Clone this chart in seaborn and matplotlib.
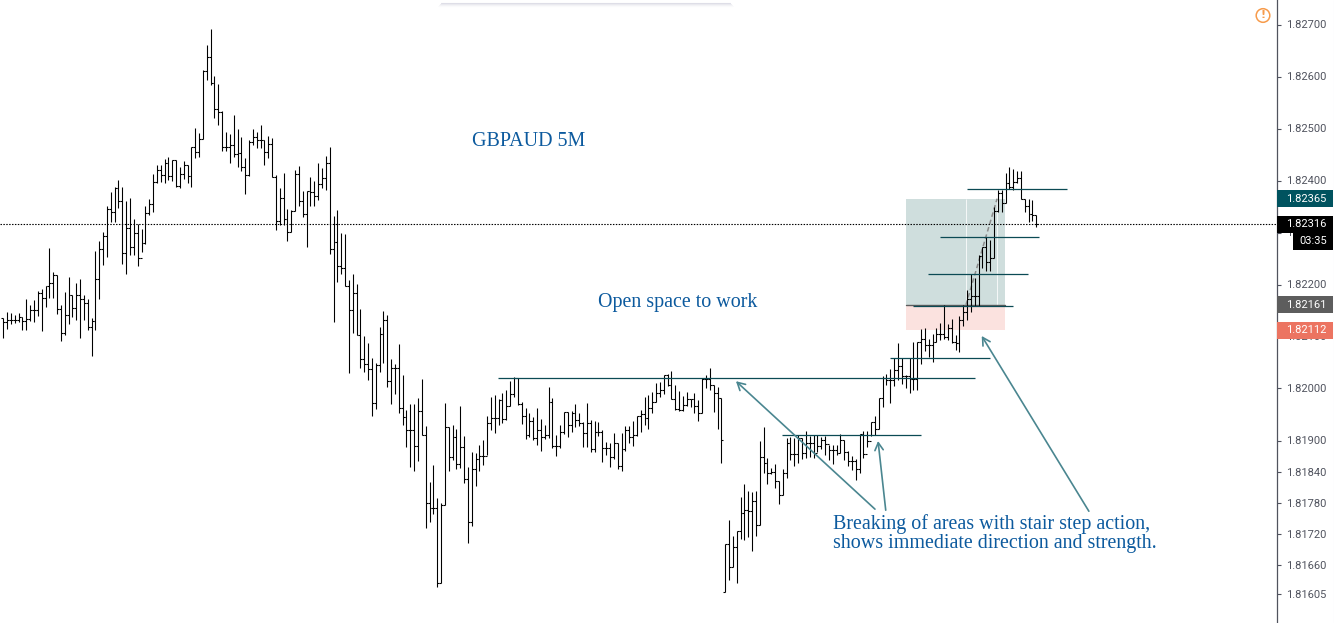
import numpy as np
import pandas as pd
import seaborn as sns
import matplotlib
matplotlib.use("Agg")
import matplotlib.pyplot as plt
from matplotlib.patches import Rectangle, Circle
from matplotlib.lines import Line2D
from matplotlib.transforms import IdentityTransform

# OHLC, in points (0.00001) above 1.82000
high = [135,147,145,142,145,137,172,161,171,188,192,198,270,224,219,161,185,215,180,203,211,180,172,135,265,283,301,351,378,387,401,388,360,366,326,317,307,351,365,413,429,429,442,445,440,440,426,438,429,464,501,491,612,661,692,601,586,533,494,489,526,499,483,443,478,499,493,506,478,485,481,410,385,414,346,344,421,428,379,379,406,399,433,424,448,465,332,344,
        300,298,209,220,201,153,101,87,58,50,119,149,141,56,48,86,26,-41,-30,-30,-19,19,-72,-180,-147,-211,-221,-28,-75,-70,-77,-34,-91,-150,-123,-125,-109,-100,-53,-16,-13,-20,-9,-2,14,23,21,-25,-38,-47,-54,-38,-59,-70,2,-19,-89,-70,-45,-46,-43,-30,-47,-65,-28,-61,-63,-64,-79,-102,-104,-86,-104,-86,-72,-72,-63,-52,-41,-16,-13,-7,10,12,26,28,34,7,-4,-14,-6,-20,-9,-22,21,26,39,7,2,-19,
        -300,-252,-284,-274,-208,-183,-197,-200,-197,-101,-74,-133,-152,-146,-178,-154,-96,-93,-96,-90,-96,-81,-91,-90,-90,-93,-91,-108,-109,-108,-88,-99,-120,-130,-136,-88,-81,-82,-65,-53,-18,24,28,37,58,87,58,26,58,89,90,114,116,96,105,116,126,160,125,133,103,
        140,161,190,220,212,256,273,292,286,349,382,382,415,426,422,419,419,364,364,363,334]
low = [98,114,124,126,128,112,113,130,127,139,110,156,174,174,144,92,103,125,137,132,98,132,112,62,112,173,237,252,321,321,347,239,221,256,256,235,262,278,333,340,395,397,395,401,400,387,385,403,395,388,444,445,479,594,584,521,506,456,457,433,446,425,419,375,408,468,462,462,429,444,406,304,315,315,283,301,341,350,329,273,350,350,362,385,382,258,127,204,
       221,198,30,106,103,39,31,16,-52,-39,32,50,2,-29,-10,-48,-71,-112,-150,-158,-139,-89,-268,-256,-241,-381,-375,-224,-158,-138,-154,-152,-182,-298,-264,-187,-158,-147,-128,-79,-86,-70,-67,-61,-34,-16,-32,-69,-98,-93,-99,-109,-121,-98,-96,-114,-129,-114,-88,-93,-83,-75,-73,-112,-113,-123,-123,-91,-141,-128,-150,-136,-154,-158,-120,-105,-111,-91,-83,-70,-78,-47,-25,-16,-11,5,-21,-41,-43,-43,-34,-35,-47,-62,-48,0,-3,-45,-78,-143,
       -391,-368,-343,-375,-290,-292,-286,-312,-283,-263,-163,-183,-165,-192,-223,-204,-172,-138,-149,-144,-136,-134,-131,-133,-122,-117,-128,-138,-146,-128,-124,-138,-149,-157,-176,-163,-133,-112,-92,-90,-77,-35,7,-27,5,17,8,0,-8,-3,-2,47,73,61,51,89,93,96,93,87,74,
       70,121,132,147,158,158,231,225,225,251,340,340,356,383,381,395,364,339,321,323,310]
close = [128,132,132,132,137,129,133,151,151,183,174,197,203,218,153,106,141,180,154,180,172,164,118,129,210,268,294,345,340,386,360,260,308,273,299,251,279,337,355,397,421,411,433,408,440,390,412,429,409,464,454,479,610,637,587,537,532,464,465,468,451,453,426,411,475,483,477,478,455,470,406,323,366,326,301,341,412,360,335,379,377,371,394,404,433,268,281,236,
         231,198,151,183,103,56,48,37,-27,45,104,132,14,39,39,-37,-54,-80,-79,-111,-44,-89,-221,-229,-229,-375,-224,-75,-131,-93,-146,-113,-175,-256,-155,-136,-130,-129,-67,-57,-57,-22,-58,-34,-11,20,-30,-53,-89,-63,-96,-80,-93,-89,-25,-110,-110,-84,-46,-70,-47,-61,-67,-86,-67,-117,-83,-83,-115,-115,-132,-104,-149,-117,-80,-94,-89,-53,-50,-57,-38,-25,-9,-2,25,7,-20,-40,-41,-32,-21,-21,-34,-48,18,18,7,-9,-19,-100,
         -300,-343,-304,-275,-240,-234,-235,-217,-263,-131,-143,-163,-160,-178,-204,-163,-104,-126,-126,-96,-125,-104,-104,-125,-110,-99,-106,-118,-118,-124,-99,-122,-140,-140,-154,-88,-126,-101,-65,-77,-18,21,16,17,35,43,24,24,19,19,90,96,83,83,89,105,104,99,116,90,87,
         131,148,173,177,178,255,273,244,251,341,376,356,395,387,398,404,364,350,336,334,316]
# The one bar that opens away from the previous close, after the jump down
gap_open = {188: -391}
first_open = 135

price_ticks = [1.82700,1.82600,1.82500,1.82400,1.82300,1.82200,1.82100,1.82000,1.81900,1.81840,1.81780,1.81720,1.81660,1.81605]
tags = [(1.82365,"#00535f"),(1.82316,"#000000"),(1.82161,"#5d5d5d"),(1.82112,"#ec7461")]
last_price = 1.82316
BASE, POINT = 1.82, 1e-5

# horizontal study lines: (price, first bar, last bar)
levels = [(1.82020,128.8,253),(1.81910,202.8,239),(1.82058,230.9,256.9),(1.82159,236.9,262.9),
          (1.82220,240.8,266.8),(1.82291,243.9,269.7),(1.82383,250.9,277)]
# arrows: (tail bar, tail price, head bar, head price)
arrows = [(227,1.81768,190.8,1.82014),(229.8,1.81766,227.8,1.81899),(282.7,1.81764,254.8,1.82101)]

sns.set_theme(style="white")
SERIF = "Liberation Serif"
BLUE = "#0c5a9e"
TEAL = "#0b4a54"
AX_GREY = "#50535e"
LW = 0.78

fig = plt.figure(figsize=(13.34,6.23),dpi=100)
ax = fig.add_axes([0,0,1277/1334,1])

n = len(high)
bars = np.arange(n)
H = BASE+np.array(high)*POINT
L = BASE+np.array(low)*POINT
C = BASE+np.array(close)*POINT
O = np.r_[BASE+first_open*POINT, C[:-1]]
for k,v in gap_open.items():
    O[k] = BASE+v*POINT

stems = pd.DataFrame({"bar":np.r_[bars,bars],"price":np.r_[H,L]})
sns.lineplot(data=stems,x="bar",y="price",units="bar",estimator=None,color="black",lw=LW,ax=ax,sort=False,solid_capstyle="butt")
opens = pd.DataFrame({"x":np.r_[bars-0.5,bars],"price":np.r_[O,O],"bar":np.r_[bars,bars]})
sns.lineplot(data=opens,x="x",y="price",units="bar",estimator=None,color="black",lw=LW,ax=ax,sort=False,solid_capstyle="butt")
closes = pd.DataFrame({"x":np.r_[bars,bars+0.5],"price":np.r_[C,C],"bar":np.r_[bars,bars]})
sns.lineplot(data=closes,x="x",y="price",units="bar",estimator=None,color="black",lw=LW,ax=ax,sort=False,solid_capstyle="butt")

ax.set_xlim(-3.3/3.84,(1277-3.3)/3.84)
ax.set_ylim(1.827-(623-24.5)/52000,1.827+24.5/52000)
ax.set_xlabel(""); ax.set_ylabel("")
ax.set_xticks([])

# position box
ax.add_patch(Rectangle((235.1,1.82161),25.8,0.00204,fc="#cfdedd",ec="none",zorder=0.5))
ax.add_patch(Rectangle((235.1,1.82112),25.8,0.00049,fc="#fbe2df",ec="none",zorder=0.5))
ax.vlines([250.7,258.8],1.82161,1.82365,color="white",lw=0.7,alpha=0.8,zorder=0.6)
ax.plot([235.1,260.9],[1.82161,1.82161],color="#5d5d5d",lw=1,zorder=0.7)
ax.plot([250.7,258.8],[1.82161,1.82365],color="#8a8a8a",lw=1.1,ls=(0,(3,2)),zorder=0.7)

# last-price line
ax.axhline(last_price,color="black",lw=0.8,ls=(0,(1.3,1.3)),zorder=1.5)

for p,a,b in levels:
    ax.plot([a,b],[p,p],color=TEAL,lw=0.9,zorder=3,solid_capstyle="butt")
for x0,y0,x1,y1 in arrows:
    ax.annotate("",xy=(x1,y1),xytext=(x0,y0),zorder=3,
                arrowprops=dict(arrowstyle="->,head_length=0.45,head_width=0.25",color="#4a8690",lw=1.2,shrinkA=0,shrinkB=0))

def px_x(v): return (v-3.3)/3.84
def px_y(v): return 1.827-(v-24.5)/52000
FS = 14.38
ax.text(px_x(472),px_y(142),"GBPAUD 5M",family=SERIF,fontsize=FS,color=BLUE,va="center",ha="left")
ax.text(px_x(598),px_y(303),"Open space to work",family=SERIF,fontsize=FS,color=BLUE,va="center",ha="left")
ax.text(px_x(833),px_y(524),"Breaking of areas with stair step action,",family=SERIF,fontsize=FS,color=BLUE,va="center",ha="left")
ax.text(px_x(833),px_y(543.5),"shows immediate direction and strength.",family=SERIF,fontsize=FS,color=BLUE,va="center",ha="left")

# price axis
for s in ["top","left","bottom"]:
    ax.spines[s].set_visible(False)
ax.spines["right"].set_visible(True)
ax.spines["right"].set_color(AX_GREY)
ax.spines["right"].set_linewidth(0.9)
ax.yaxis.tick_right()
ax.set_yticks(price_ticks)
ax.set_yticklabels([f"{t:.5f}" for t in price_ticks])
ax.tick_params(axis="y",length=3.2,width=0.8,color=AX_GREY,labelcolor=AX_GREY,labelsize=8,pad=3,right=True,left=False)
for t in ax.get_yticklabels():
    t.set_family("Roboto")

# price tags
tr = ax.get_yaxis_transform()
w = 56/1277
h = 17/52000
for p,c in tags:
    ax.add_patch(Rectangle((1,p-h/2),w,h,transform=tr,fc=c,ec="none",clip_on=False,zorder=6))
    ax.text(1+9/1277,p,f"{p:.5f}",transform=tr,color="white",family="Roboto",fontsize=8,va="center",ha="left",zorder=7,clip_on=False)
yc = px_y(241.5)
ax.add_patch(Rectangle((1+16/1277,yc-h/2),40/1277,h,transform=tr,fc="black",ec="none",clip_on=False,zorder=6))
ax.text(1+36/1277,yc,"03:35",transform=tr,color="white",family="Roboto",fontsize=8,va="center",ha="center",zorder=7,clip_on=False)

# chrome: warning icon, toolbar edge, right border
fig.add_artist(Circle((1263,623-15.5),6.8,transform=IdentityTransform(),fc="none",ec="#f79b4b",lw=1.1))
fig.text(1263/1334,1-15.5/623,"!",color="#f79b4b",fontsize=8,fontweight="bold",ha="center",va="center",family="DejaVu Sans")
for i,a in enumerate([0.45,0.25,0.12,0.05]):
    fig.add_artist(Line2D([(441-i)/1334,(730+i)/1334],[1-(2.5+i)/623]*2,transform=fig.transFigure,color="#b9b9cc",lw=0.8,alpha=a))
fig.add_artist(Line2D([1333.5/1334]*2,[0,1],transform=fig.transFigure,color="#e4e4ee",lw=0.8))

fig.savefig("out.png",dpi=100)
